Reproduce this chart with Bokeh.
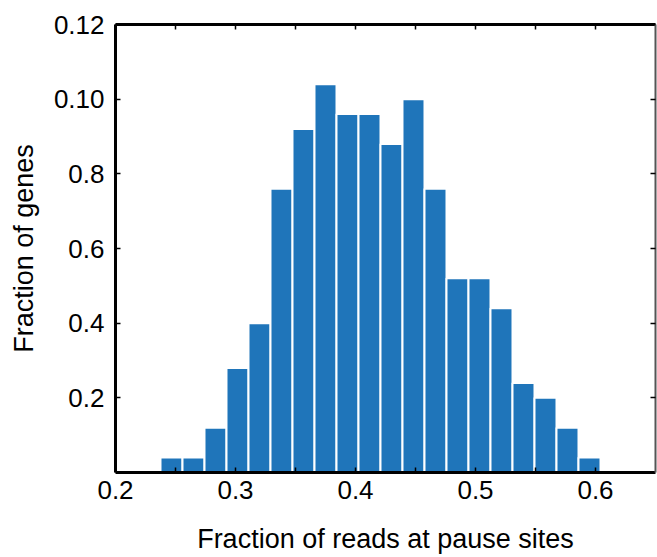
import numpy as np
from bokeh.plotting import figure
from bokeh.models import LinearAxis, FixedTicker, Range1d
from bokeh.embed import file_html
from bokeh.resources import INLINE

# Histogram data
bin_start = 0.2375
bin_width = 0.018333
fractions = [0.004, 0.004, 0.012, 0.028, 0.040, 0.076, 0.092, 0.104, 0.096, 0.096,
             0.088, 0.100, 0.076, 0.052, 0.052, 0.044, 0.024, 0.020, 0.012, 0.004]

x_ticks = [0.2, 0.3, 0.4, 0.5, 0.6]
x_tick_labels = ["0.2", "0.3", "0.4", "0.5", "0.6"]
x_minor_ticks = [0.25, 0.35, 0.45, 0.55]
y_ticks = [0.02, 0.04, 0.06, 0.08, 0.10, 0.12]
y_tick_labels = ["0.2", "0.4", "0.6", "0.8", "0.10", "0.12"]

lefts = [bin_start + i * bin_width for i in range(len(fractions))]
rights = [l + bin_width for l in lefts]

FONT = "Liberation Sans"

p = figure(width=657, height=557, output_backend="svg", toolbar_location=None,
           x_range=Range1d(0.2, 0.65), y_range=Range1d(0, 0.12),
           x_axis_location=None, y_axis_location=None,
           min_border_left=115, min_border_right=2, min_border_top=24,
           min_border_bottom=85)
p.outline_line_color = None
p.grid.visible = False
p.background_fill_color = "white"
p.border_fill_color = "white"

p.quad(left=lefts, right=rights, bottom=0, top=fractions,
       fill_color="#1f75ba", line_color="white", line_width=2)

all_x_ticks = sorted(x_ticks + x_minor_ticks)

def style_axis(ax, ticks, labels=None, show_labels=True, color="black", width=3):
    ax.ticker = FixedTicker(ticks=ticks)
    ax.minor_tick_line_color = None
    ax.major_tick_in = 5
    ax.major_tick_out = 0
    ax.major_tick_line_width = 1.5
    ax.major_tick_line_color = "black"
    ax.axis_line_color = color
    ax.axis_line_width = width
    if show_labels and labels is not None:
        ax.major_label_overrides = {t: l for t, l in zip(ticks, labels)}
        ax.major_label_text_font = FONT
        ax.major_label_text_font_size = "26px"
        ax.major_label_text_color = "black"
    else:
        ax.major_label_text_font_size = "0px"
        ax.major_label_text_color = None

# bottom axis (labels at major ticks, ticks every 0.05)
xb = LinearAxis()
style_axis(xb, all_x_ticks)
xb.major_label_overrides = {t: (l) for t, l in zip(x_ticks, x_tick_labels)}
xb.major_label_overrides.update({t: "" for t in x_minor_ticks})
xb.major_label_text_font = FONT
xb.major_label_text_font_size = "26px"
xb.major_label_text_color = "black"
xb.major_label_standoff = 8
xb.axis_label = "Fraction of reads at pause sites"
xb.axis_label_text_font = FONT
xb.axis_label_text_font_size = "27px"
xb.axis_label_text_font_style = "normal"
xb.axis_label_text_color = "black"
xb.axis_label_standoff = 22
p.add_layout(xb, "below")

# left axis
yl = LinearAxis()
style_axis(yl, y_ticks, y_tick_labels, show_labels=True)
yl.major_label_standoff = 11
yl.axis_label = "Fraction of genes"
yl.axis_label_text_font = FONT
yl.axis_label_text_font_size = "27px"
yl.axis_label_text_font_style = "normal"
yl.axis_label_text_color = "black"
yl.axis_label_standoff = 12
p.add_layout(yl, "left")

# top axis (frame)
xt = LinearAxis()
style_axis(xt, all_x_ticks, show_labels=False, color="black", width=3)
p.add_layout(xt, "above")

# right axis (frame)
yr = LinearAxis()
style_axis(yr, y_ticks, show_labels=False, color="#555555", width=2)
p.add_layout(yr, "right")

open("out.html", "w").write(file_html(p, INLINE))
